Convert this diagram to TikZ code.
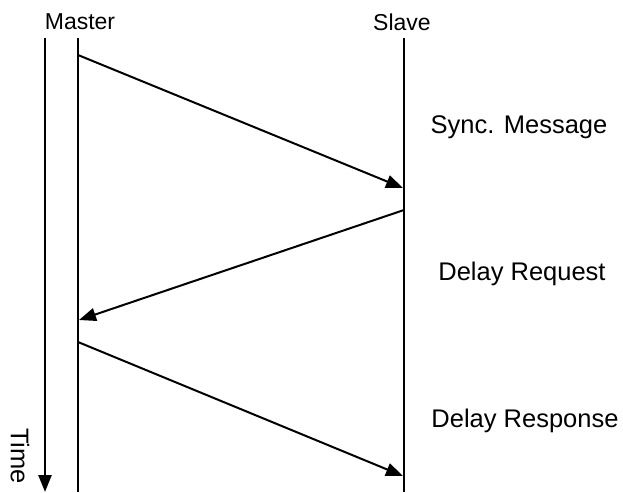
\documentclass[tikz,border=0pt]{standalone}
\usepackage{fontspec}
\setmainfont{Liberation Sans}
\usetikzlibrary{arrows.meta}
\begin{document}
\begin{tikzpicture}[x=1pt,y=-1pt,
  lbl/.style={inner sep=0pt,font=\fontsize{23}{27}\selectfont},
  biglbl/.style={inner sep=0pt,font=\fontsize{25.5}{30}\selectfont},
  life/.style={line width=2.5pt},
  msg/.style={line width=2pt,-{Triangle[length=17pt,width=13pt]}},
  timeax/.style={line width=2.5pt,-{Triangle[length=17pt,width=13pt]}}]
\useasboundingbox (0,0) rectangle (623,492);
% lifelines
\coordinate (t0) at (45,38);
\coordinate (t1) at (45,492);
\coordinate (m0) at (78,38);
\coordinate (m1) at (78,492);
\coordinate (s0) at (404,38);
\coordinate (s1) at (404,492);
\draw[timeax] (t0) -- (t1);
\draw[life] (m0) -- (m1);
\draw[life] (s0) -- (s1);
% labels
\node[lbl] (master) at (80,22) {Master};
\node[lbl] (slave) at (402,22) {Slave};
\node[biglbl,rotate=-90] (time) at (20,456) {Time};
\node[biglbl] (sync) at (519,127) {Sync. Message};
\node[biglbl] (dreq) at (522,274) {Delay Request};
\node[biglbl] (dresp) at (525,421) {Delay Response};
% messages
\coordinate (a0) at (78,55);
\coordinate (a1) at (403,188);
\coordinate (b0) at (404,210);
\coordinate (b1) at (79,320);
\coordinate (c0) at (78,342);
\coordinate (c1) at (403,476);
\draw[msg] (a0) -- (a1);
\draw[msg] (b0) -- (b1);
\draw[msg] (c0) -- (c1);
\end{tikzpicture}
\end{document}
